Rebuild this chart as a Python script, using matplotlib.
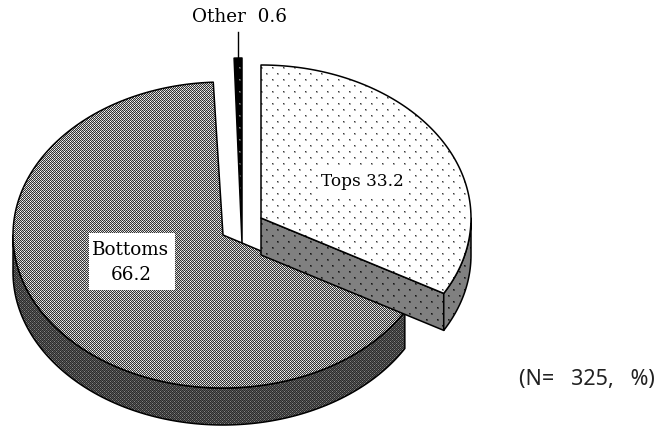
import matplotlib
matplotlib.use("Agg")
import matplotlib.pyplot as plt
import numpy as np
from matplotlib.patches import Polygon, Rectangle

# share of each part, percent
labels = ["Tops", "Bottoms", "Other"]
values = [33.2, 66.2, 0.6]
note = "(N=   325,   %)"

W, H = 661, 426
RX, RY, DEPTH = 210, 153, 37

# exploded pie centres, in pixels
centres = {"Tops": (261, 218), "Bottoms": (223, 235), "Other": (242, 243)}


def tile_texture(tile):
    tile = np.array(tile, dtype=float)
    ny = H // tile.shape[0] + 1
    nx = W // tile.shape[1] + 1
    return np.tile(tile, (ny, nx))[:H, :W]


def dotted(bg, dot, soft):
    # staggered dots like the printed screen
    t = np.full((12, 11), float(bg))
    t[1:3, 2:4] = soft
    t[1, 2] = dot
    t[7:9, 8:10] = soft
    t[7, 8] = dot
    return tile_texture(t)


def arc(centre, a0, a1, n=200, ry=RY):
    # angles in degrees, clockwise from 12 o'clock
    a = np.radians(np.linspace(a0, a1, n))
    return np.column_stack([centre[0] + RX * np.sin(a), centre[1] - ry * np.cos(a)])


def fill(ax, pts, tex):
    im = ax.imshow(tex, cmap="gray", vmin=0, vmax=255, interpolation="nearest",
                   extent=(0, W, H, 0), zorder=ax.zo)
    poly = Polygon(pts, closed=True, transform=ax.transData)
    im.set_clip_path(poly)
    ax.add_patch(Polygon(pts, closed=True, fill=False, edgecolor="black",
                         linewidth=1.1, joinstyle="round", zorder=ax.zo + 0.5))
    ax.zo += 1


fig = plt.figure(figsize=(W / 100, H / 100), dpi=100)
ax = fig.add_axes([0, 0, 1, 1])
ax.zo = 2

# texture tiles
tex_bottom = tile_texture([[50, 200, 50, 200], [200, 50, 255, 50],
                           [50, 200, 50, 200], [255, 50, 200, 50]])
tex_bottom_rim = tile_texture([[45, 85, 45, 85], [85, 45, 130, 45],
                               [45, 85, 45, 85], [130, 45, 85, 45]])
tex_tops = dotted(255, 60, 170)
tex_tops_side = dotted(128, 20, 70)
tex_other = dotted(0, 130, 60)

# slice angles come from the values
spans = np.cumsum([0] + values) * 3.6
a_tops = (spans[0], spans[1])
a_bottoms = (spans[1] + 0.5, spans[2] - 0.5)
a_other = (spans[2], spans[3])

# other: thin black slice, drawn long so it tapers down into the gap
c = centres["Other"]
pts = np.vstack([[c], arc(c, a_other[0], a_other[1], 10, ry=185)])
fill(ax, pts, tex_other)
top_x = arc(c, *a_other, 3, ry=185)[1]
ax.plot([top_x[0], top_x[0]], [32, top_x[1]], color="black", lw=1, zorder=ax.zo)

# bottoms: rim then top face
c = centres["Bottoms"]
rim = arc(c, a_bottoms[0], 270)
fill(ax, np.vstack([rim, (rim + [0, DEPTH])[::-1]]), tex_bottom_rim)
fill(ax, np.vstack([[c], arc(c, *a_bottoms)]), tex_bottom)

# tops: cut face, rim, top face
c = centres["Tops"]
end = arc(c, a_tops[1], a_tops[1], 1)[0]
fill(ax, [c, end, end + [0, DEPTH], np.array(c) + [0, DEPTH]], tex_tops_side)
rim = arc(c, 90, a_tops[1])
fill(ax, np.vstack([rim, (rim + [0, DEPTH])[::-1]]), tex_tops_side)
fill(ax, np.vstack([[c], arc(c, *a_tops)]), tex_tops)

# labels
serif = dict(family="DejaVu Serif", fontsize=13.2, ha="center", va="center",
             color="black", zorder=50)
ax.add_patch(Rectangle((89, 233), 86, 57, fc="white", ec="none", zorder=49))
ax.text(131, 250, labels[1], **serif)
ax.text(131, 275, f"{values[1]}", **serif)
ax.add_patch(Rectangle((318, 168), 88, 28, fc="white", ec="none", zorder=49))
ax.text(362, 182, f"{labels[0]} {values[0]}", **{**serif, "fontsize": 12.2})
ax.text(240, 17, f"{labels[2]}  {values[2]}", **serif)
ax.text(587, 379, note, family="Noto Sans", fontsize=15.5, ha="center", va="center",
        color="#222222", zorder=50)

ax.set_xlim(0, W)
ax.set_ylim(H, 0)
ax.axis("off")
fig.savefig("out.png", dpi=100, facecolor="white")
